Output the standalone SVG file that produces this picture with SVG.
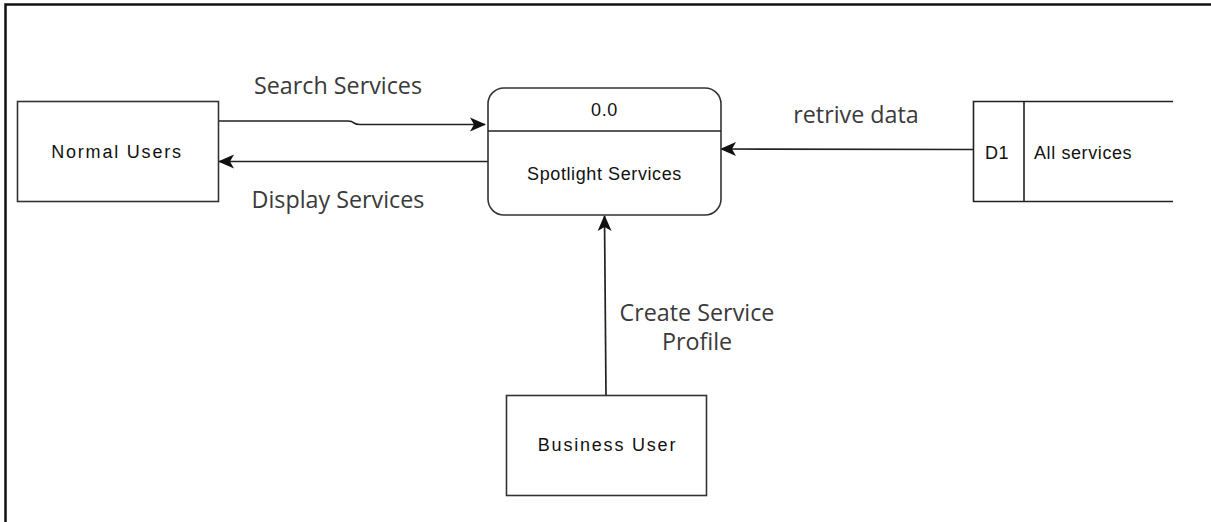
<svg xmlns="http://www.w3.org/2000/svg" width="1211" height="522" viewBox="0 0 1211 522">
  <defs>
    <marker id="arrow" viewBox="0 0 16 16" refX="15" refY="8" markerWidth="16" markerHeight="16" markerUnits="userSpaceOnUse" orient="auto">
      <path d="M0,1 L16,8 L0,15 L4,8 Z" fill="#111"/>
    </marker>
    <style>
      .frame { fill: none; stroke: #111; stroke-width: 2.5; }
      .box { fill: #fff; stroke: #333; stroke-width: 1.6; }
      .line { fill: none; stroke: #222; stroke-width: 1.6; }
      .flow { fill: none; stroke: #222; stroke-width: 1.7; marker-end: url(#arrow); }
      .node-text { font-family: "Liberation Sans", Arial, sans-serif; font-size: 18px; fill: #111; text-anchor: middle; dominant-baseline: central; letter-spacing: 0.6px; }
      .entity-text { letter-spacing: 1.8px; }
      .flow-text { font-family: "Open Sans", "Noto Sans", sans-serif; font-size: 23.3px; fill: #3a3a3a; text-anchor: middle; dominant-baseline: central; }
    </style>
  </defs>

  <rect width="1211" height="522" fill="#fff"/>
  <!-- page frame, open at the right and bottom -->
  <rect class="frame" x="5.5" y="4.5" width="1220" height="530"/>

  <!-- connectors -->
  <g id="connectors">
    <path class="flow" d="M218,121 L348,121 Q352,121 354,123 Q356,124.5 360,124.5 L485,124.5"/>
    <path class="flow" d="M488,161.5 L219,161.5"/>
    <path class="flow" d="M973,149.5 L721,149"/>
    <path class="flow" d="M606,395 L604.5,216"/>
    <text class="flow-text" x="338" y="85">Search Services</text>
    <text class="flow-text" x="338" y="199">Display Services</text>
    <text class="flow-text" x="856" y="114">retrive data</text>
    <text class="flow-text" x="697" y="312">Create Service</text>
    <text class="flow-text" x="697" y="341">Profile</text>
  </g>

  <!-- external entity: normal users -->
  <g id="normal-users">
    <rect class="box" x="17.5" y="101.5" width="201" height="100"/>
    <text class="node-text entity-text" x="117" y="152">Normal Users</text>
  </g>

  <!-- process 0.0 -->
  <g id="spotlight-services">
    <rect class="box" x="488" y="88" width="233" height="127" rx="16" ry="16"/>
    <line class="line" x1="488" y1="131" x2="721" y2="131"/>
    <text class="node-text" x="604.5" y="110">0.0</text>
    <text class="node-text" x="604.5" y="174">Spotlight Services</text>
  </g>

  <!-- data store D1 -->
  <g id="all-services">
    <path class="line" d="M1173,101.5 L973.5,101.5 L973.5,201.5 L1173,201.5"/>
    <line class="line" x1="1024" y1="101.5" x2="1024" y2="201.5"/>
    <text class="node-text" x="997" y="153">D1</text>
    <text class="node-text" x="1034" y="153" style="text-anchor:start">All services</text>
  </g>

  <!-- external entity: business user -->
  <g id="business-user">
    <rect class="box" x="506.5" y="395.5" width="200" height="100"/>
    <text class="node-text entity-text" x="607.5" y="445">Business User</text>
  </g>
</svg>
